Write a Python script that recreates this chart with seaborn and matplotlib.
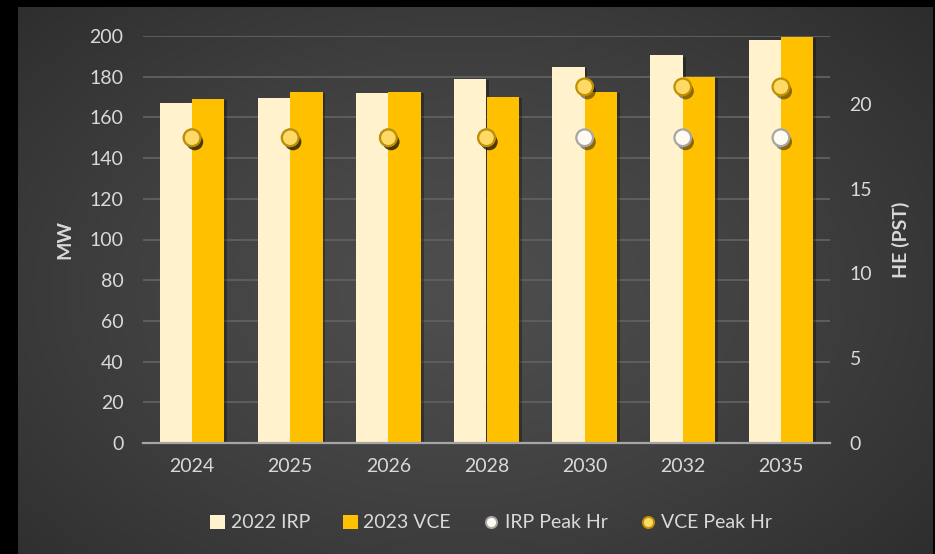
import numpy as np
import pandas as pd
import matplotlib
matplotlib.use("Agg")
import matplotlib.pyplot as plt
import matplotlib.patheffects as pe
from matplotlib.lines import Line2D
from matplotlib.patches import Patch
import seaborn as sns

# ---- data -------------------------------------------------------------
years = ["2024", "2025", "2026", "2028", "2030", "2032", "2035"]
irp_mw = [167, 169.5, 172, 179, 185, 190.5, 198]
vce_mw = [169, 172.5, 172.5, 170, 172.5, 180, 199.5]
irp_peak_hr = [18, 18, 18, 18, 18, 18, 18]
vce_peak_hr = [18, 18, 18, 18, 21, 21, 21]
series_names = ["2022 IRP", "2023 VCE", "IRP Peak Hr", "VCE Peak Hr"]
mw_ticks = [0, 20, 40, 60, 80, 100, 120, 140, 160, 180, 200]
hr_ticks = [0, 5, 10, 15, 20]

# ---- style ------------------------------------------------------------
IRP_BAR = "#FFF2CC"
VCE_BAR = "#FFC000"
IRP_DOT_FACE, IRP_DOT_EDGE = "#FFFBF0", "#A6A6A6"
VCE_DOT_FACE, VCE_DOT_EDGE = "#FFD966", "#BF9000"
TEXT = "#D9D9D9"
GRID = "#5E5E5E"

sns.set_theme(style="dark")
plt.rcParams["font.family"] = ["Lato", "DejaVu Sans"]

W, H = 935, 554
fig = plt.figure(figsize=(W / 100, H / 100), dpi=100, facecolor="black")

# radial-gradient chart background
bg = fig.add_axes([18 / W, 0, 915 / W, 547 / H], zorder=-10)
gx, gy = np.meshgrid(np.linspace(0, 1, 400), np.linspace(0, 1, 300))
r = np.sqrt(((gx - 0.48) / 0.75) ** 2 + ((gy - 0.52) / 0.85) ** 2)
r = np.clip(r, 0, 1)
c0, c1 = 0.305, 0.16
shade = c0 + (c1 - c0) * r ** 1.3
bg.imshow(np.dstack([shade] * 3), extent=[0, 1, 0, 1], aspect="auto",
          origin="upper", interpolation="bilinear")
bg.set_axis_off()

ax = fig.add_axes([143 / W, 1 - 443 / H, (830 - 143) / W, (443 - 36) / H])
ax.set_facecolor("none")

# ---- bars ---------------------------------------------------------------
bars_df = pd.DataFrame({
    "Year": years * 2,
    "MW": irp_mw + vce_mw,
    "Series": [series_names[0]] * len(years) + [series_names[1]] * len(years),
})
sns.barplot(data=bars_df, x="Year", y="MW", hue="Series", order=years,
            hue_order=series_names[:2], palette=[IRP_BAR, VCE_BAR],
            saturation=1, width=0.66, gap=0, errorbar=None, linewidth=0,
            legend=False, ax=ax, zorder=3)
for p in ax.patches:
    p.set_path_effects([pe.SimplePatchShadow(offset=(2, -1), shadow_rgbFace="black",
                                             alpha=0.3), pe.Normal()])

ax.set_ylim(0, 200)
ax.set_yticks(mw_ticks)
ax.set_xlim(-0.5, len(years) - 0.5)
ax.yaxis.grid(True, color=GRID, linewidth=1.4, zorder=0)
ax.xaxis.grid(False)
ax.set_axisbelow(True)
for s in ["top", "left", "right"]:
    ax.spines[s].set_visible(False)
ax.spines["bottom"].set_color("#A6A6A6")
ax.spines["bottom"].set_linewidth(1.6)
ax.spines["bottom"].set_zorder(4)
ax.tick_params(axis="both", length=0, colors=TEXT, labelsize=14)
ax.tick_params(axis="y", pad=14)
ax.tick_params(axis="x", pad=11)
ax.set_xlabel("")
ax.set_ylabel("MW", color=TEXT, fontsize=14, fontweight="bold")
ax.yaxis.set_label_coords(-0.102, 0.5)

# ---- peak-hour markers on the secondary axis ---------------------------
ax2 = ax.twinx()
ax2.set_zorder(ax.get_zorder() + 1)
ax2.patch.set_visible(False)
shadow = [pe.SimplePatchShadow(offset=(2, -3), shadow_rgbFace="black", alpha=0.45),
          pe.Normal()]
n_before = len(ax2.lines)
sns.pointplot(x=years, y=irp_peak_hr, order=years, color=IRP_DOT_FACE,
              linestyle="none", markers="o", errorbar=None, ax=ax2)
for ln in ax2.lines[n_before:]:
    ln.set_markersize(12)
    ln.set_markerfacecolor(IRP_DOT_FACE)
    ln.set_markeredgecolor(IRP_DOT_EDGE)
    ln.set_markeredgewidth(1.6)
    ln.set_path_effects(shadow)
    ln.set_zorder(5)
n_before = len(ax2.lines)
sns.pointplot(x=years, y=vce_peak_hr, order=years, color=VCE_DOT_FACE,
              linestyle="none", markers="o", errorbar=None, ax=ax2)
for ln in ax2.lines[n_before:]:
    ln.set_markersize(12)
    ln.set_markerfacecolor(VCE_DOT_FACE)
    ln.set_markeredgecolor(VCE_DOT_EDGE)
    ln.set_markeredgewidth(1.6)
    ln.set_path_effects(shadow)
    ln.set_zorder(6)

ax2.set_ylim(0, 24)
ax2.set_yticks(hr_ticks)
ax2.set_xlim(-0.5, len(years) - 0.5)
ax2.grid(False)
for s in ["top", "left", "right", "bottom"]:
    ax2.spines[s].set_visible(False)
ax2.tick_params(axis="y", length=0, colors=TEXT, labelsize=14, pad=14)
ax2.set_ylabel("HE (PST)", color=TEXT, fontsize=14, fontweight="bold")
ax2.yaxis.set_label_coords(1.09, 0.5)

ax.set_xticks(range(len(years)))
ax.set_xticklabels(years)

# ---- legend -------------------------------------------------------------
handles = [
    Patch(facecolor=IRP_BAR, edgecolor="none"),
    Patch(facecolor=VCE_BAR, edgecolor="none"),
    Line2D([], [], marker="o", linestyle="none", markersize=8,
           markerfacecolor=IRP_DOT_FACE, markeredgecolor=IRP_DOT_EDGE, markeredgewidth=1.4),
    Line2D([], [], marker="o", linestyle="none", markersize=8,
           markerfacecolor=VCE_DOT_FACE, markeredgecolor=VCE_DOT_EDGE, markeredgewidth=1.4),
]
leg = fig.legend(handles, series_names, loc="center", bbox_to_anchor=(491 / W, 1 - 523 / H),
                 ncol=4, frameon=False, fontsize=14, labelcolor=TEXT,
                 handlelength=0.75, handleheight=0.75, handletextpad=0.3,
                 columnspacing=1.7)

fig.savefig("out.png", dpi=100, facecolor="black")
